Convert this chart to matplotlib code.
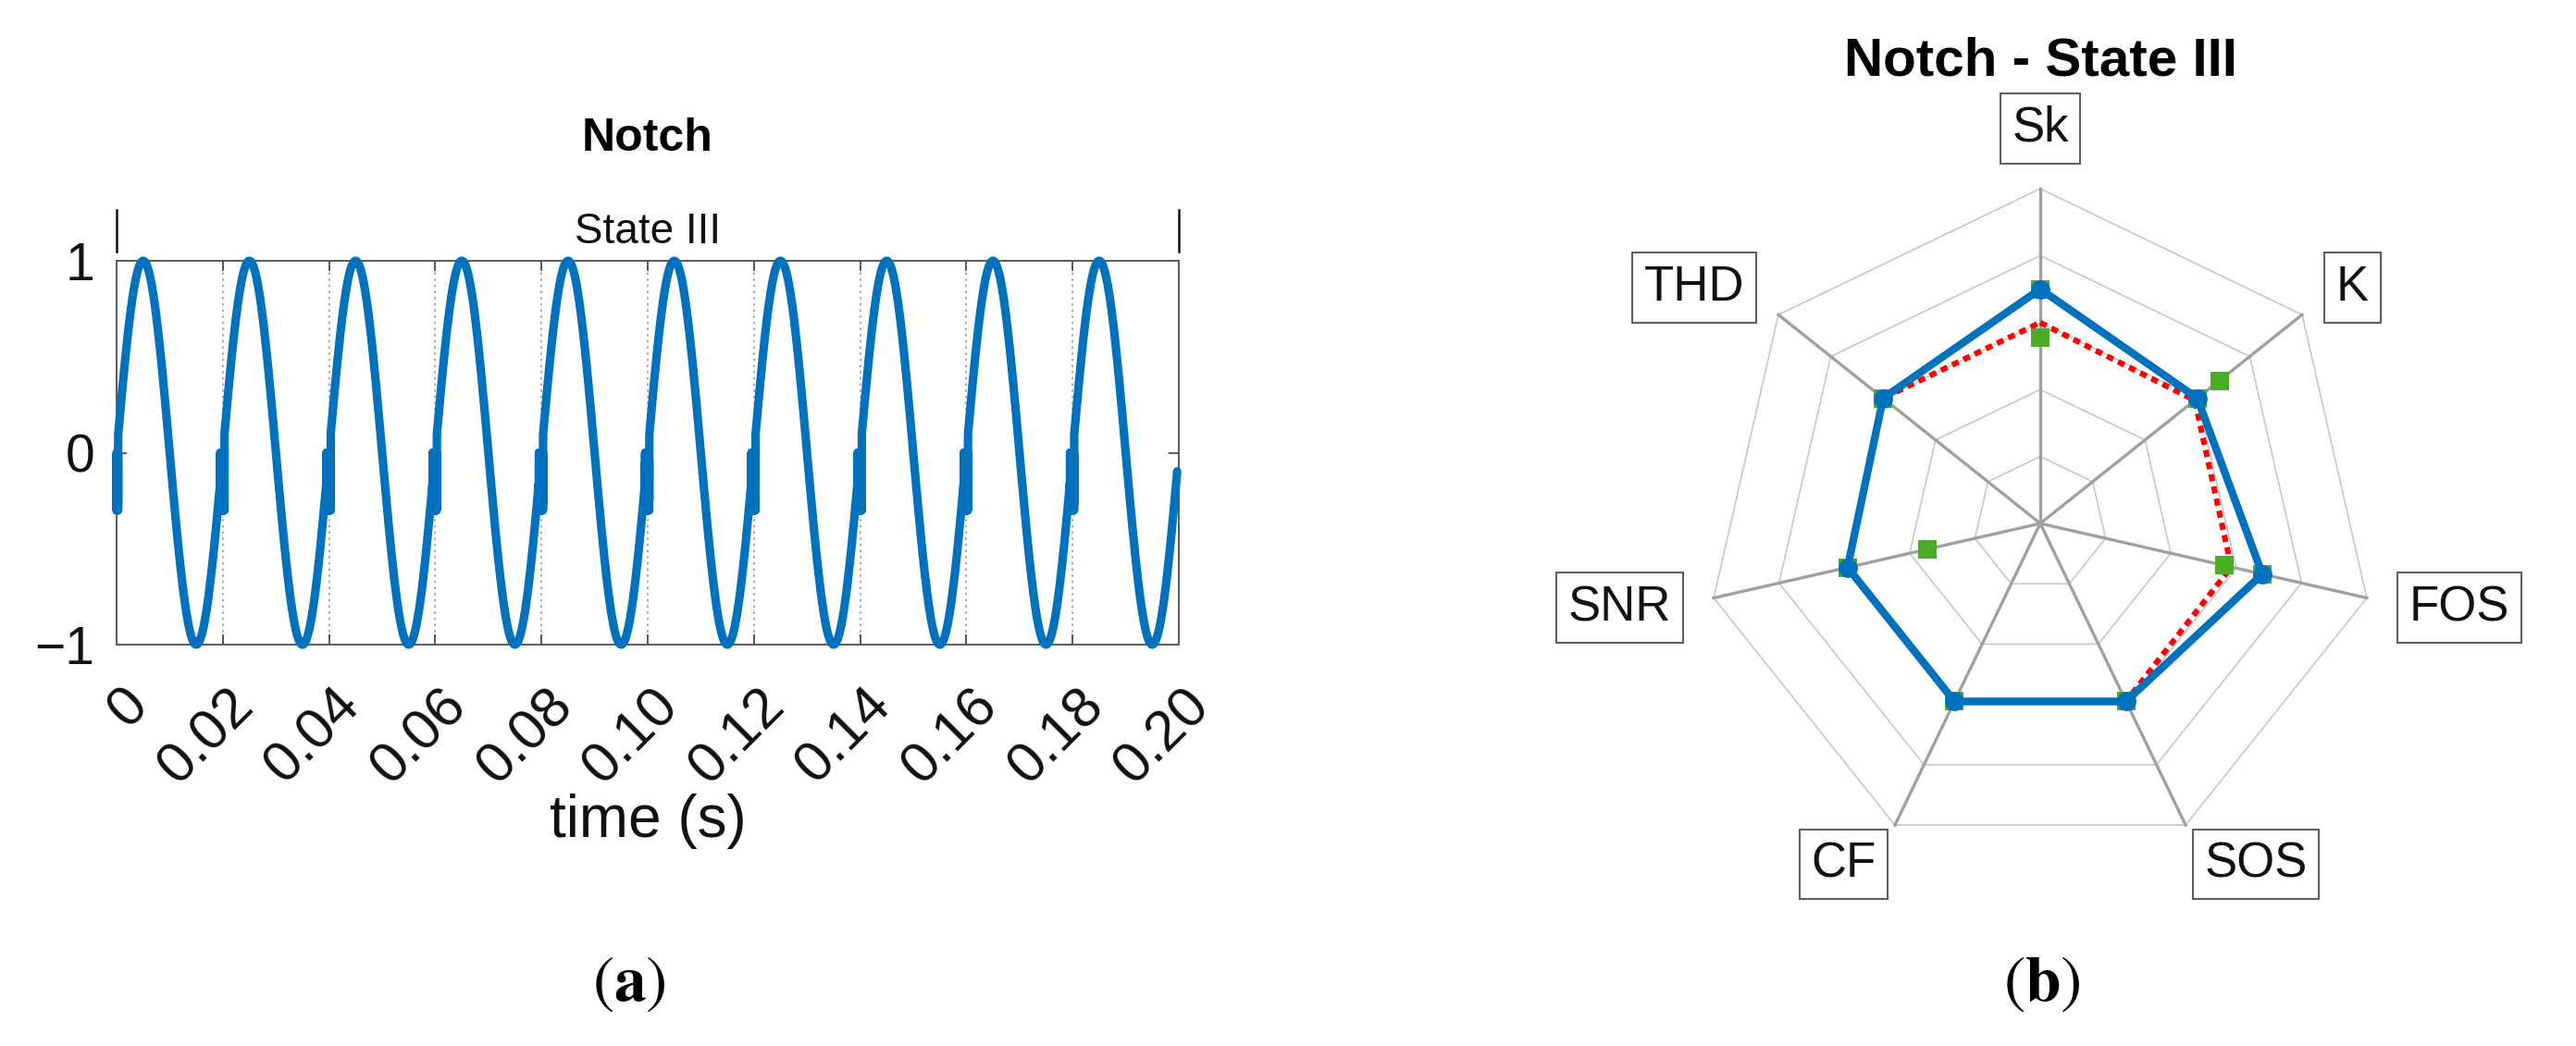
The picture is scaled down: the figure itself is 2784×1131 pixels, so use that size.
import numpy as np
import matplotlib
matplotlib.use("Agg")
import matplotlib.pyplot as plt
from matplotlib.transforms import ScaledTranslation, blended_transform_factory

plt.rcParams['font.family'] = ['Liberation Sans', 'DejaVu Sans']
plt.rcParams['mathtext.fontset'] = 'stix'

W, H, DPI = 2784, 1131, 100

# ---------------- panel (a) data ----------------
panel_a_title = "Notch"
state_label = "State III"
state_bounds = [0.0, 0.20]
fundamental_hz = 50.0
peak_amplitude = 1.0
record_end_s = 0.1997
notch_centres_s = [0.00, 0.02, 0.04, 0.06, 0.08, 0.10, 0.12, 0.14, 0.16, 0.18]
notch_window_s = [-0.0005, 0.0003]
notch_levels = [-0.30, -0.02, -0.27, 0.00, -0.30, -0.05, -0.25, 0.00]
xtick_values = [0.00, 0.02, 0.04, 0.06, 0.08, 0.10, 0.12, 0.14, 0.16, 0.18, 0.20]
xtick_labels = ["0", "0.02", "0.04", "0.06", "0.08", "0.10", "0.12", "0.14",
                "0.16", "0.18", "0.20"]
ytick_values = [-1, 0, 1]
ytick_labels = ["\u22121", "0", "1"]
x_label = "time (s)"

# ---------------- panel (b) data ----------------
radar_title = "Notch - State III"
radar_axes_names = ["Sk", "K", "FOS", "SOS", "CF", "SNR", "THD"]
blue_values = [0.70, 0.60, 0.68, 0.59, 0.59, 0.59, 0.60]
red_values = [0.60, 0.59, 0.585, 0.59, 0.59, 0.59, 0.60]
green_values = [0.555, 0.684, 0.563, 0.59, 0.59, 0.346, 0.60]
ring_levels = [0.2, 0.4, 0.6, 0.8, 1.0]

BLUE = '#0072BD'
RED = '#FF0000'
GREEN = '#4DAC26'


def fx(px):
    return px / W


def fy(py):
    return 1 - py / H


fig = plt.figure(figsize=(W / DPI, H / DPI), dpi=DPI)
fig.patch.set_facecolor('white')

# ======================= panel (a) =======================
ax = fig.add_axes([fx(126), fy(697), 1148 / W, 415 / H])

t = np.arange(0.0, record_end_s, 1e-5)
v = peak_amplitude * np.sin(2 * np.pi * fundamental_hz * t)
for c in notch_centres_s:
    idx = np.where((t >= c + notch_window_s[0]) & (t <= c + notch_window_s[1]))[0]
    v[idx] = np.resize(notch_levels, idx.size)

ax.plot(t, v, color=BLUE, lw=6.6, clip_on=False, solid_joinstyle='round',
        solid_capstyle='round', zorder=3)

ax.set_xlim(0, 0.2)
ax.set_ylim(-1, 1)
ax.set_xticks(xtick_values)
ax.set_yticks(ytick_values)
ax.set_yticklabels(ytick_labels)
ax.tick_params(axis='both', direction='in', length=8, width=1.2, color='#404040',
               top=True, right=True, labelsize=41, labelcolor='#111111')
ax.tick_params(axis='y', pad=17)
ax.tick_params(axis='x', labelbottom=False)
ax.set_axisbelow(True)
ax.grid(True, axis='x', linestyle=(0, (1.5, 2.5)), color='#9a9a9a', lw=1.2)
for sp in ax.spines.values():
    sp.set_color('#5a5a5a')
    sp.set_linewidth(1.4)

# rotated x tick labels
off = ScaledTranslation(25 / DPI, -57 / DPI, fig.dpi_scale_trans)
btr = blended_transform_factory(ax.transData, ax.transAxes)
for val, lab in zip(xtick_values, xtick_labels):
    ax.text(val, 0, lab, transform=btr + off, rotation=45, rotation_mode='anchor',
            ha='right', va='center', fontsize=44, color='#111111')

# state boundary markers and label
for b in state_bounds:
    ax.plot([b, b], [1.05, 1.265], color='#111111', lw=1.8, clip_on=False)
st = blended_transform_factory(ax.transData, fig.transFigure)
ax.text(np.mean(state_bounds), fy(263), state_label, transform=st, ha='center',
        va='baseline', fontsize=33, color='#111111')

fig.text(fx(700), fy(163), panel_a_title, ha='center', va='baseline',
         fontsize=36, fontweight='bold')
fig.text(fx(700), fy(905), x_label, ha='center', va='baseline', fontsize=46,
         color='#111111')
fig.text(fx(680), fy(1082), '(' + r'$\mathbf{a}$' + ')', ha='center', va='baseline',
         fontsize=50, family='STIXGeneral')

# ======================= panel (b) =======================
half = 1.45
R_px = 362
cx, cy = 2205, 566
span = 2 * half * R_px
rax = fig.add_axes([fx(cx - span / 2), fy(cy + span / 2), span / W, span / H])
rax.set_xlim(-half, half)
rax.set_ylim(-half, half)
rax.set_axis_off()

n = len(radar_axes_names)
theta = 2 * np.pi * np.arange(n) / n
sx, cyv = np.sin(theta), np.cos(theta)


def closed(vals):
    vals = np.asarray(vals, dtype=float)
    xs = vals * sx
    ys = vals * cyv
    return np.append(xs, xs[0]), np.append(ys, ys[0])


for lev in ring_levels:
    xs, ys = closed([lev] * n)
    rax.plot(xs, ys, color='#c8c8c8', lw=1.2, zorder=1)
for k in range(n):
    rax.plot([0, sx[k]], [0, cyv[k]], color='#a0a0a0', lw=2.4, zorder=2)

xs, ys = closed(red_values)
rax.plot(xs, ys, color=RED, lw=4.4, linestyle=(0, (1.25, 0.95)), zorder=3)

gx, gy = closed(green_values)
rax.plot(gx[:-1], gy[:-1], 's', color=GREEN, ms=14, mew=0, zorder=4)
bx, by = closed(blue_values)
rax.plot(bx[:-1], by[:-1], 's', color=GREEN, ms=14, mew=0, zorder=4)
rax.plot(bx, by, color=BLUE, lw=6, zorder=5)
rax.plot(bx[:-1], by[:-1], 'o', color=BLUE, ms=15, mew=0, zorder=6)

for k, name in enumerate(radar_axes_names):
    s = sx[k]
    if abs(s) < 0.1:
        ha, r = 'center', 1.18
    elif s > 0:
        ha, r = 'left', 1.13
    else:
        ha, r = 'right', 1.13
    rax.text(r * sx[k], r * cyv[k], name, ha=ha, va='center', fontsize=38,
             color='#111111', zorder=7,
             bbox=dict(boxstyle='square,pad=0.24', fc='white', ec='#5f5f5f', lw=1.5))

fig.text(fx(2205), fy(81), radar_title, ha='center', va='baseline', fontsize=42,
         fontweight='bold')
fig.text(fx(2207), fy(1082), '(' + r'$\mathbf{b}$' + ')', ha='center', va='baseline',
         fontsize=50, family='STIXGeneral')

fig.savefig('out.png', dpi=DPI, facecolor='white')
